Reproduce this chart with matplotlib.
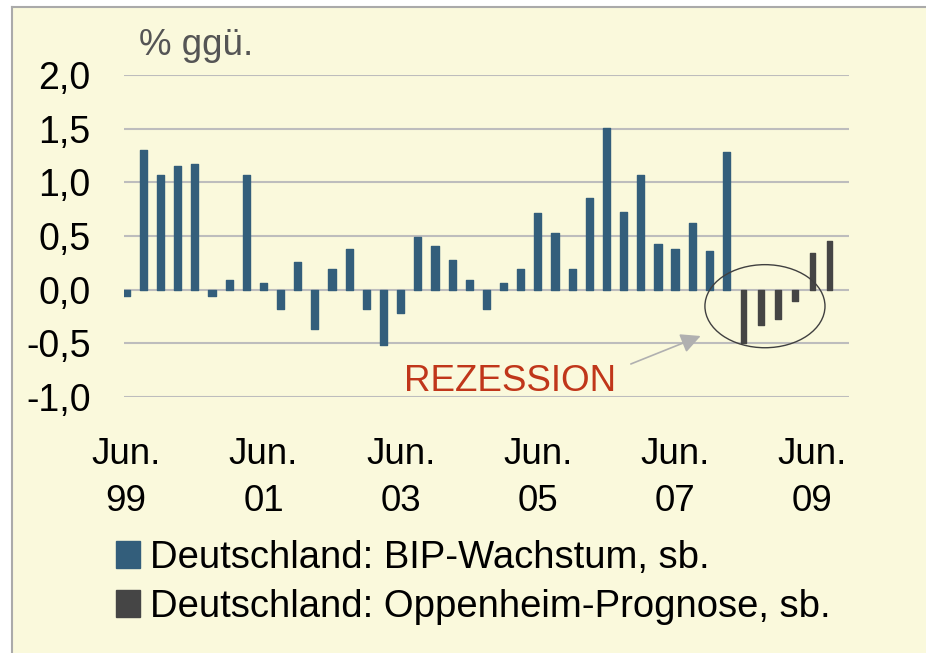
import numpy as np
import matplotlib
matplotlib.use('Agg')
import matplotlib.pyplot as plt
from matplotlib.patches import Rectangle, Ellipse
from matplotlib.lines import Line2D

plt.rcParams['font.family'] = ['Liberation Sans', 'DejaVu Sans']

# --- Data: German GDP growth q/q (%), Jun 99 .. Mar 08, then forecast Jun 08 .. Sep 09 ---
gdp_actual = [-0.06, 1.30, 1.07, 1.15, 1.17, -0.06, 0.09, 1.07, 0.06, -0.18,
              0.26, -0.37, 0.19, 0.38, -0.18, -0.52, -0.22, 0.49, 0.41, 0.28,
              0.09, -0.18, 0.06, 0.19, 0.71, 0.53, 0.19, 0.85, 1.51, 0.72,
              1.07, 0.43, 0.38, 0.62, 0.36, 1.28]
gdp_forecast = [-0.50, -0.33, -0.27, -0.11, 0.34, 0.45]

tick_labels = ['Jun.\n99', 'Jun.\n01', 'Jun.\n03', 'Jun.\n05', 'Jun.\n07', 'Jun.\n09']
y_ticks = [-1.0, -0.5, 0.0, 0.5, 1.0, 1.5, 2.0]
y_labels = ['-1,0', '-0,5', '0,0', '0,5', '1,0', '1,5', '2,0']

legend_labels = ['Deutschland: BIP-Wachstum, sb.', 'Deutschland: Oppenheim-Prognose, sb.']

blue = '#335E7B'
dark = '#454545'
bg = '#FAF9DC'
grid_col = '#BDBDBD'

x_actual = np.arange(len(gdp_actual))
x_forecast = np.arange(len(gdp_actual), len(gdp_actual) + len(gdp_forecast))

fig = plt.figure(figsize=(9.26, 6.53), dpi=100, facecolor='white')

# cream panel with grey border at top / left only
x0, y1 = 12 / 926, 1 - 7 / 653
fig.patches.append(Rectangle((x0, -0.05), 1.1, y1 + 0.05, transform=fig.transFigure,
                             facecolor=bg, edgecolor='none', zorder=-10))
fig.lines.append(Line2D([x0, 1.05], [y1, y1], transform=fig.transFigure,
                        color='#AAAAAA', lw=1.5))
fig.lines.append(Line2D([x0, x0], [-0.05, y1], transform=fig.transFigure,
                        color='#AAAAAA', lw=1.5))

ax = fig.add_axes([124 / 926, 1 - 397 / 653, 725 / 926, 322 / 653])
ax.set_facecolor('none')

b1 = ax.bar(x_actual, gdp_actual, width=0.42, color=blue, edgecolor=blue,
            lw=1, joinstyle='round', zorder=3)
b2 = ax.bar(x_forecast, gdp_forecast, width=0.32, color=dark, edgecolor=dark,
            lw=1, joinstyle='round', zorder=3)

ax.set_xlim(-0.13, 42.14)
ax.set_ylim(-1.0, 2.0)
ax.set_yticks(y_ticks)
ax.set_yticklabels(y_labels, fontsize=27)
ax.set_xticks(np.arange(0, 41, 8))
ax.set_xticklabels(tick_labels, fontsize=26.5, linespacing=1.45)
ax.tick_params(axis='y', length=0, pad=24)
ax.tick_params(axis='x', length=0, pad=29)
ax.grid(axis='y', color=grid_col, lw=1.5, zorder=0)
for s in ax.spines.values():
    s.set_visible(False)

# recession marker
ax.add_patch(Ellipse((37.24, -0.154), 7.0, 0.774, fill=False, edgecolor='#404040',
                     lw=1, zorder=4))
ax.annotate('', xy=(33.64, -0.422), xytext=(29.27, -0.702),
            arrowprops=dict(arrowstyle='-|>', color='#B0B0B0', lw=1.2,
                            mutation_scale=30), zorder=4)
ax.text(22.36, -0.94, 'REZESSION', color='#C0361A', fontsize=26.5,
        ha='center', va='baseline')

fig.text(139 / 926, 1 - 55 / 653, '% ggü.', color='#555555', fontsize=26.5,
         ha='left', va='baseline')

fig.legend([b1, b2], legend_labels, loc='upper left',
           bbox_to_anchor=(116 / 926, 1 - 540 / 653), frameon=False,
           fontsize=27.5, handlelength=0.62, handleheight=0.68, handletextpad=0.28,
           labelspacing=0.34, borderpad=0, borderaxespad=0)

fig.savefig('out.png', dpi=100, facecolor=fig.get_facecolor())
